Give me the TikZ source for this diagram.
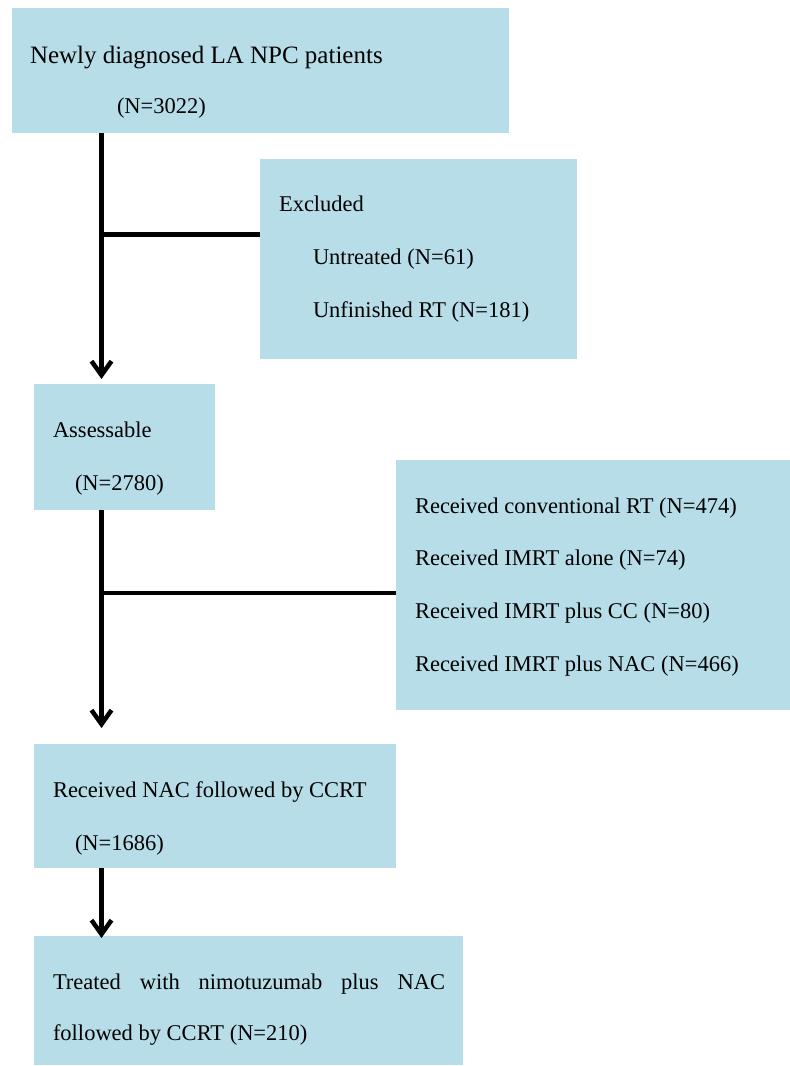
\documentclass[tikz,border=0pt]{standalone}
\usepackage{fontspec}
\setmainfont{Liberation Serif}
\usetikzlibrary{arrows.meta}
\definecolor{boxblue}{HTML}{B7DDE8}
\begin{document}
\begin{tikzpicture}[x=1pt,y=-1pt,
  box/.style={fill=boxblue, draw=none, inner sep=0pt, outer sep=0pt, anchor=north west},
  txt/.style={anchor=base west, inner sep=0pt, outer sep=0pt, font=\fontsize{22.5}{27}\selectfont},
  bigtxt/.style={txt, font=\fontsize{25}{30}\selectfont},
  link/.style={line width=4.5pt, draw=black},
  arr/.style={link, -{Straight Barb[length=14pt, width=20pt]}}]
\useasboundingbox (0,0) rectangle (790,1066);
% boxes
\node[box, minimum width=497pt, minimum height=125pt] (b1) at (12,8) {};
\node[box, minimum width=317pt, minimum height=200pt] (b2) at (260,159) {};
\node[box, minimum width=181pt, minimum height=126pt] (b3) at (34,384) {};
\node[box, minimum width=394pt, minimum height=250pt] (b4) at (396,460) {};
\node[box, minimum width=362pt, minimum height=124pt] (b5) at (34,744) {};
\node[box, minimum width=429pt, minimum height=129pt] (b6) at (34,936) {};
% texts
\node[bigtxt] (t1a) at (30,63) {Newly diagnosed LA NPC patients};
\node[txt] (t1b) at (117,113) {(N=3022)};
\node[txt] (t2a) at (279,211) {Excluded};
\node[txt] (t2b) at (313,264) {Untreated (N=61)};
\node[txt] (t2c) at (313,317) {Unfinished RT (N=181)};
\node[txt] (t3a) at (53,437) {Assessable};
\node[txt] (t3b) at (75,490) {(N=2780)};
\node[txt] (t4a) at (415,513) {Received conventional RT (N=474)};
\node[txt] (t4b) at (415,565) {Received IMRT alone (N=74)};
\node[txt] (t4c) at (415,618) {Received IMRT plus CC (N=80)};
\node[txt] (t4d) at (415,671) {Received IMRT plus NAC (N=466)};
\node[txt] (t5a) at (53,797) {Received NAC followed by CCRT};
\node[txt] (t5b) at (75,850) {(N=1686)};
\node[txt] (t6a) at (53,989) {\makebox[392pt][s]{Treated with nimotuzumab plus NAC}};
\node[txt] (t6b) at (53,1040) {followed by CCRT (N=210)};
% connectors
\coordinate (tx) at (101.5,0);
\coordinate (j1) at (101.5,234.5);
\coordinate (j2) at (101.5,593);
\draw[arr, shorten >=5pt] (b1.south -| tx) -- (b3.north -| tx);
\draw[link] (j1) -- (j1 -| b2.west);
\draw[arr, shorten >=16pt] (b3.south -| tx) -- (b5.north -| tx);
\draw[link] (j2) -- (j2 -| b4.west);
\draw[arr, shorten >=-2pt] (b5.south -| tx) -- (b6.north -| tx);
\end{tikzpicture}
\end{document}
